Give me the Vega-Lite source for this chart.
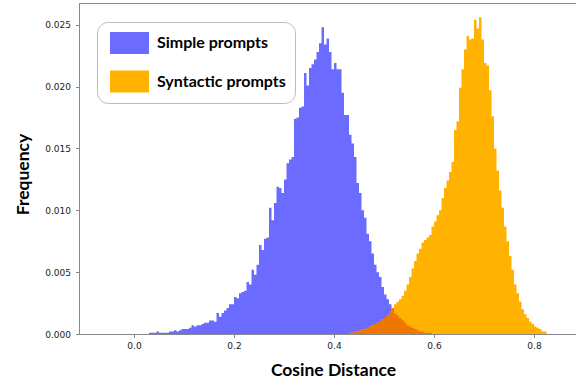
{
  "$schema": "https://vega.github.io/schema/vega-lite/v6.json",
  "width": 497,
  "height": 331,
  "autosize": {"type": "none"},
  "padding": {"left": 79, "top": 3, "right": 0, "bottom": 47},
  "background": "white",
  "data": {"values": [
    {"lo":0.030,"s":0.0001},{"lo":0.035,"s":0.0001},{"lo":0.040,"s":0.0001},{"lo":0.045,"s":0.0002},
    {"lo":0.050,"s":0.0001},{"lo":0.055,"s":0.0001},{"lo":0.060,"s":0.0001},{"lo":0.065,"s":0.0001},
    {"lo":0.070,"s":0.0002},{"lo":0.075,"s":0.0002},{"lo":0.080,"s":0.0003},{"lo":0.085,"s":0.0002},
    {"lo":0.090,"s":0.0003},{"lo":0.095,"s":0.0004},{"lo":0.100,"s":0.0004},{"lo":0.105,"s":0.0004},
    {"lo":0.110,"s":0.0005},{"lo":0.115,"s":0.0007},{"lo":0.120,"s":0.0006},{"lo":0.125,"s":0.0007},
    {"lo":0.130,"s":0.0007},{"lo":0.135,"s":0.0008},{"lo":0.140,"s":0.0009},{"lo":0.145,"s":0.0009},
    {"lo":0.150,"s":0.0011},{"lo":0.155,"s":0.0011},{"lo":0.160,"s":0.0010},{"lo":0.165,"s":0.0017},
    {"lo":0.170,"s":0.0014},{"lo":0.175,"s":0.0017},{"lo":0.180,"s":0.0019},{"lo":0.185,"s":0.0021},
    {"lo":0.190,"s":0.0024},{"lo":0.195,"s":0.0024},{"lo":0.200,"s":0.0030},{"lo":0.205,"s":0.0029},
    {"lo":0.210,"s":0.0033},{"lo":0.215,"s":0.0034},{"lo":0.220,"s":0.0035},{"lo":0.225,"s":0.0042},
    {"lo":0.230,"s":0.0040},{"lo":0.235,"s":0.0052},{"lo":0.240,"s":0.0048},{"lo":0.245,"s":0.0056},
    {"lo":0.250,"s":0.0072},{"lo":0.255,"s":0.0068},{"lo":0.260,"s":0.0077},{"lo":0.265,"s":0.0078},
    {"lo":0.270,"s":0.0102},{"lo":0.275,"s":0.0092},{"lo":0.280,"s":0.0106},{"lo":0.285,"s":0.0119},
    {"lo":0.290,"s":0.0118},{"lo":0.295,"s":0.0114},{"lo":0.300,"s":0.0125},{"lo":0.305,"s":0.0138},
    {"lo":0.310,"s":0.0141},{"lo":0.315,"s":0.0143},{"lo":0.320,"s":0.0174},{"lo":0.325,"s":0.0175},
    {"lo":0.330,"s":0.0183},{"lo":0.335,"s":0.0184},{"lo":0.340,"s":0.0211},{"lo":0.345,"s":0.0201},
    {"lo":0.350,"s":0.0215},{"lo":0.355,"s":0.0218},{"lo":0.360,"s":0.0222},{"lo":0.365,"s":0.0228},
    {"lo":0.370,"s":0.0235},{"lo":0.375,"s":0.0248},{"lo":0.380,"s":0.0234},{"lo":0.385,"s":0.0239},
    {"lo":0.390,"s":0.0228},{"lo":0.395,"s":0.0214},{"lo":0.400,"s":0.0219},{"lo":0.405,"s":0.0214},
    {"lo":0.410,"s":0.0214},{"lo":0.415,"s":0.0195},{"lo":0.420,"s":0.0177},{"lo":0.425,"s":0.0177},
    {"lo":0.430,"s":0.0161,"t":0.0001,"o":0.0001},{"lo":0.435,"s":0.0154,"t":0.0001,"o":0.0001},
    {"lo":0.440,"s":0.0143,"t":0.0002,"o":0.0002},{"lo":0.445,"s":0.0122,"t":0.0002,"o":0.0002},
    {"lo":0.450,"s":0.0114,"t":0.0003,"o":0.0003},{"lo":0.455,"s":0.0100,"t":0.0004,"o":0.0004},
    {"lo":0.460,"s":0.0094,"t":0.0004,"o":0.0004},{"lo":0.465,"s":0.0081,"t":0.0005,"o":0.0005},
    {"lo":0.470,"s":0.0075,"t":0.0006,"o":0.0006},{"lo":0.475,"s":0.0065,"t":0.0007,"o":0.0007},
    {"lo":0.480,"s":0.0056,"t":0.0008,"o":0.0008},{"lo":0.485,"s":0.0050,"t":0.0009,"o":0.0009},
    {"lo":0.490,"s":0.0046,"t":0.0010,"o":0.0010},{"lo":0.495,"s":0.0038,"t":0.0012,"o":0.0012},
    {"lo":0.500,"s":0.0032,"t":0.0013,"o":0.0013},{"lo":0.505,"s":0.0028,"t":0.0015,"o":0.0015},
    {"lo":0.510,"s":0.0024,"t":0.0018,"o":0.0018},{"lo":0.515,"s":0.0021,"t":0.0021,"o":0.0021},
    {"lo":0.520,"s":0.0017,"t":0.0024,"o":0.0017},{"lo":0.525,"s":0.0015,"t":0.0026,"o":0.0015},
    {"lo":0.530,"s":0.0013,"t":0.0028,"o":0.0013},{"lo":0.535,"s":0.0011,"t":0.0031,"o":0.0011},
    {"lo":0.540,"s":0.0009,"t":0.0035,"o":0.0009},{"lo":0.545,"s":0.0007,"t":0.0040,"o":0.0007},
    {"lo":0.550,"s":0.0006,"t":0.0046,"o":0.0006},{"lo":0.555,"s":0.0005,"t":0.0053,"o":0.0005},
    {"lo":0.560,"s":0.0004,"t":0.0059,"o":0.0004},{"lo":0.565,"s":0.0003,"t":0.0065,"o":0.0003},
    {"lo":0.570,"s":0.0002,"t":0.0069,"o":0.0002},{"lo":0.575,"s":0.0002,"t":0.0074,"o":0.0002},
    {"lo":0.580,"s":0.0001,"t":0.0076,"o":0.0001},{"lo":0.585,"s":0.0001,"t":0.0078,"o":0.0001},
    {"lo":0.590,"s":0.0001,"t":0.0080,"o":0.0001},{"lo":0.595,"s":0.0001,"t":0.0087,"o":0.0001},
    {"lo":0.600,"t":0.0091},{"lo":0.605,"t":0.0096},{"lo":0.610,"t":0.0100},{"lo":0.615,"t":0.0110},
    {"lo":0.620,"t":0.0118},{"lo":0.625,"t":0.0124},{"lo":0.630,"t":0.0131},{"lo":0.635,"t":0.0139},
    {"lo":0.640,"t":0.0165},{"lo":0.645,"t":0.0172},{"lo":0.650,"t":0.0199},{"lo":0.655,"t":0.0214},
    {"lo":0.660,"t":0.0230},{"lo":0.665,"t":0.0241},{"lo":0.670,"t":0.0238},{"lo":0.675,"t":0.0239},
    {"lo":0.680,"t":0.0254},{"lo":0.685,"t":0.0247},{"lo":0.690,"t":0.0256},{"lo":0.695,"t":0.0238},
    {"lo":0.700,"t":0.0219},{"lo":0.705,"t":0.0217},{"lo":0.710,"t":0.0197},{"lo":0.715,"t":0.0176},
    {"lo":0.720,"t":0.0150},{"lo":0.725,"t":0.0132},{"lo":0.730,"t":0.0116},{"lo":0.735,"t":0.0102},
    {"lo":0.740,"t":0.0087},{"lo":0.745,"t":0.0075},{"lo":0.750,"t":0.0063},{"lo":0.755,"t":0.0052},
    {"lo":0.760,"t":0.0040},{"lo":0.765,"t":0.0033},{"lo":0.770,"t":0.0026},{"lo":0.775,"t":0.0020},
    {"lo":0.780,"t":0.0016},{"lo":0.785,"t":0.0013},{"lo":0.790,"t":0.0010},{"lo":0.795,"t":0.0008},
    {"lo":0.800,"t":0.0006},{"lo":0.805,"t":0.0005},{"lo":0.810,"t":0.0004},{"lo":0.815,"t":0.0002},
    {"lo":0.820,"t":0.0002},{"lo":0.825,"t":0.0001}
  ]},
  "encoding": {
    "x": {
      "field": "lo", "type": "quantitative",
      "scale": {"domain": [-0.11, 0.884], "nice": false, "zero": false},
      "axis": {"title": "Cosine Distance", "values": [0, 0.2, 0.4, 0.6, 0.8], "format": ".1f", "labelPadding": 4, "titleX": 254}
    }
  },
  "layer": [
    {
      "mark": {"type": "area", "interpolate": "step-after", "opacity": 1},
      "encoding": {
        "y": {
          "field": "s", "type": "quantitative",
          "scale": {"domain": [0, 0.02676], "nice": false},
          "axis": {"title": "Frequency", "values": [0, 0.005, 0.01, 0.015, 0.02, 0.025], "format": ".3f", "labelPadding": 5, "titlePadding": 12, "titleY": 171}
        },
        "color": {
          "datum": "Simple prompts", "type": "nominal",
          "scale": {"domain": ["Simple prompts", "Syntactic prompts"], "range": ["#6b6bff", "#ffb200"]},
          "legend": {"title": null}
        }
      }
    },
    {
      "mark": {"type": "area", "interpolate": "step-after", "opacity": 1},
      "encoding": {
        "y": {"field": "t", "type": "quantitative"},
        "color": {"datum": "Syntactic prompts", "type": "nominal"}
      }
    },
    {
      "mark": {"type": "area", "interpolate": "step-after", "color": "#ee7700", "opacity": 1},
      "encoding": {
        "y": {"field": "o", "type": "quantitative"}
      }
    }
  ],
  "config": {
    "view": {"stroke": "#888888", "strokeWidth": 1},
    "axis": {
      "grid": false,
      "domainColor": "#888888",
      "tickColor": "#888888",
      "tickSize": 3.5,
      "labelFont": "DejaVu Sans",
      "labelFontSize": 9,
      "labelColor": "#222222",
      "titleFont": "Lato",
      "titleFontWeight": "bold",
      "titleFontSize": 17.5,
      "titleColor": "#000000"
    },
    "axisX": {"titlePadding": 11},
    "legend": {
      "orient": "none",
      "legendX": 18,
      "legendY": 19,
      "padding": 9,
      "strokeColor": "#bbbbbb",
      "fillColor": "#ffffff",
      "cornerRadius": 11,
      "symbolType": "M-1,-0.564H1V0.564H-1Z",
      "symbolSize": 1521,
      "symbolStrokeWidth": 0,
      "symbolOpacity": 1,
      "symbolOffset": 4,
      "clipHeight": 24,
      "rowPadding": 14.5,
      "labelFont": "Lato",
      "labelFontWeight": "bold",
      "labelFontSize": 16,
      "labelColor": "#000000",
      "labelOffset": 8,
      "labelLimit": 300
    }
  }
}
